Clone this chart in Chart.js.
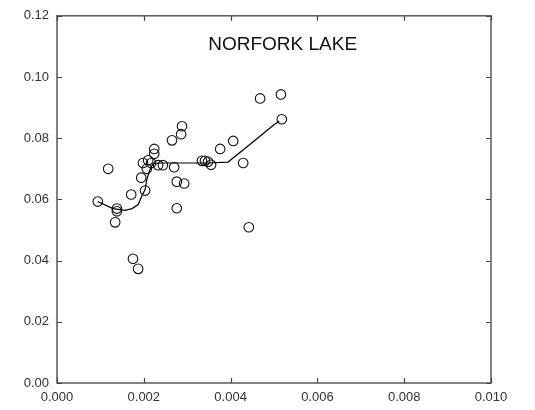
<!DOCTYPE html>
<html>
<head>
<meta charset="utf-8">
<script src="https://cdn.jsdelivr.net/npm/chart.js@4/dist/chart.umd.min.js"></script>
<style>
html,body{margin:0;padding:0;background:#fff;}
#wrap{position:relative;width:535px;height:410px;}
</style>
</head>
<body>
<div id="wrap"><canvas id="c" width="535" height="410"></canvas></div>
<script>
const chartTitle = "NORFORK LAKE";
const xTickValues = [0, 0.002, 0.004, 0.006, 0.008, 0.010];
const yTickValues = [0, 0.02, 0.04, 0.06, 0.08, 0.10, 0.12];

const obsX = [0.00094,0.00118,0.00138,0.00138,0.00134,0.00171,0.00175,0.00187,0.00203,0.00194,
              0.00198,0.00217,0.00207,0.00224,0.00224,0.00233,0.00244,0.00265,0.00270,0.00276,
              0.00276,0.00286,0.00288,0.00293,0.00334,0.00341,0.00348,0.00355,0.00376,0.00406,
              0.00429,0.00442,0.00468,0.00516,0.00518,0.00210];
const obsY = [0.0593,0.0700,0.0570,0.0561,0.0525,0.0616,0.0406,0.0373,0.0629,0.0671,
              0.0719,0.0719,0.0700,0.0765,0.0749,0.0712,0.0712,0.0793,0.0705,0.0658,
              0.0571,0.0813,0.0839,0.0652,0.0726,0.0726,0.0723,0.0713,0.0765,0.0791,
              0.0719,0.0509,0.0930,0.0943,0.0862,0.0728];

const smoothX = [0.00094,0.00129,0.00157,0.00173,0.00187,0.00196,0.00203,0.00207,0.00214,0.00221,
                 0.00237,0.00283,0.00346,0.00394,0.00445,0.00495,0.00512];
const smoothY = [0.0593,0.0570,0.0564,0.0570,0.0583,0.0613,0.0632,0.0665,0.0697,0.0716,
                 0.0719,0.0719,0.0719,0.0722,0.0780,0.0838,0.0856];

const obsPts = obsX.map((x,i)=>({x:x,y:obsY[i]}));
const smoothPts = smoothX.map((x,i)=>({x:x,y:smoothY[i]}));

const framePlugin = {
  id:'frame',
  afterDraw(chart){
    const {ctx, chartArea:a, scales} = chart;
    const xs = scales.x, ys = scales.y;
    ctx.save();
    ctx.strokeStyle = '#5a5a5a';
    ctx.lineWidth = 1.5;
    ctx.strokeRect(a.left, a.top, a.right-a.left, a.bottom-a.top);
    ctx.lineWidth = 1.2;
    ctx.strokeStyle = '#444';
    const tl = 5;
    ctx.beginPath();
    xTickValues.forEach(v=>{
      const px = Math.round(xs.getPixelForValue(v))+0.5;
      ctx.moveTo(px, a.bottom); ctx.lineTo(px, a.bottom - tl);
      ctx.moveTo(px, a.top); ctx.lineTo(px, a.top + tl);
    });
    yTickValues.forEach(v=>{
      const py = Math.round(ys.getPixelForValue(v))+0.5;
      ctx.moveTo(a.left, py); ctx.lineTo(a.left + tl, py);
      ctx.moveTo(a.right, py); ctx.lineTo(a.right - tl, py);
    });
    ctx.stroke();
    ctx.fillStyle = '#111';
    ctx.font = '19px "Liberation Sans", Arial, sans-serif';
    ctx.textAlign = 'center';
    ctx.textBaseline = 'middle';
    ctx.fillText(chartTitle, xs.getPixelForValue(0.0052), 45);
    ctx.restore();
  }
};

new Chart(document.getElementById('c'), {
  type:'scatter',
  data:{
    datasets:[
      {
        label:'smooth',
        data:smoothPts,
        showLine:true,
        borderColor:'#000',
        borderWidth:1.2,
        pointRadius:0,
        tension:0,
        fill:false
      },
      {
        label:'observed',
        data:obsPts,
        showLine:false,
        pointStyle:'circle',
        pointRadius:4.8,
        pointBorderWidth:1.1,
        borderColor:'#111',
        backgroundColor:'rgba(0,0,0,0)',
        pointBackgroundColor:'rgba(0,0,0,0)',
        pointBorderColor:'#111'
      }
    ]
  },
  options:{
    responsive:false,
    animation:false,
    layout:{padding:{top:12,right:44,left:0,bottom:0}},
    plugins:{legend:{display:false},tooltip:{enabled:false},title:{display:false}},
    scales:{
      x:{
        type:'linear',
        min:0,max:0.01,
        afterBuildTicks(s){ s.ticks = xTickValues.map(v=>({value:v})); },
        afterFit(s){ s.height = 27; },
        grid:{display:false,drawTicks:false},
        border:{display:false},
        ticks:{
          padding:7,
          color:'#333',
          font:{family:'"Liberation Sans", Arial, sans-serif',size:13},
          maxRotation:0,
          callback:(v)=>Number(v).toFixed(3)
        }
      },
      y:{
        type:'linear',
        min:0,max:0.12,
        afterBuildTicks(s){ s.ticks = yTickValues.map(v=>({value:v})); },
        afterFit(s){ s.width = 57; },
        grid:{display:false,drawTicks:false},
        border:{display:false},
        ticks:{
          padding:8,
          color:'#333',
          font:{family:'"Liberation Sans", Arial, sans-serif',size:13},
          callback:(v)=>Number(v).toFixed(2)
        }
      }
    }
  },
  plugins:[framePlugin]
});
</script>
</body>
</html>
